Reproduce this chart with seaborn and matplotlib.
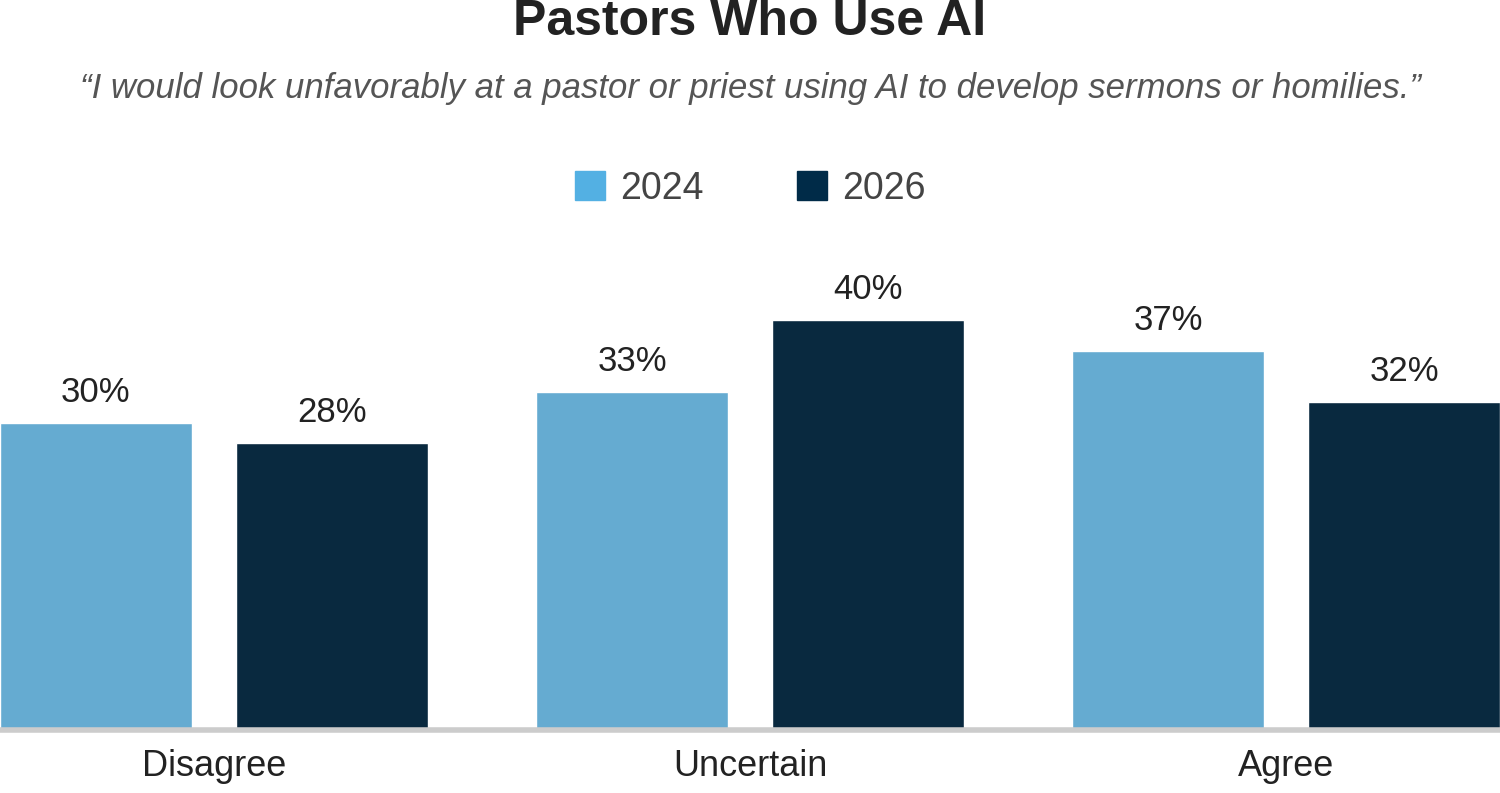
import pandas as pd
import matplotlib.pyplot as plt
import seaborn as sns

# Chart data
categories = ['Disagree', 'Uncertain', 'Agree']
years = ['2024', '2026']
values_2024 = [30, 33, 37]
values_2026 = [28, 40, 32]
colors = ['#53B0E3', '#002B48']

df = pd.DataFrame({
    'category': categories * 2,
    'year': [years[0]] * 3 + [years[1]] * 3,
    'value': values_2024 + values_2026,
})

sns.set_style('white')
plt.rcParams['font.family'] = ['Liberation Sans Narrow', 'Liberation Sans', 'DejaVu Sans']

fig = plt.figure(figsize=(15, 7.93), dpi=100)
ax = fig.add_axes([0, 63 / 793, 1, 500 / 793])

sns.barplot(data=df, x='category', y='value', hue='year', palette=colors,
            width=0.88, gap=0.186, legend=False, ax=ax)

for cont in ax.containers:
    ax.bar_label(cont, labels=[f'{v:.0f}%' for v in cont.datavalues],
                 padding=10, fontsize=25, color='#222222')

ax.set_xlim(-0.399, 2.399)
ax.set_ylim(0, 48.8)
ax.set_yticks([])
ax.set_xlabel('')
ax.set_ylabel('')
for s in ['top', 'left', 'right']:
    ax.spines[s].set_visible(False)
ax.spines['bottom'].set_color('#cccccc')
ax.spines['bottom'].set_linewidth(4)
ax.tick_params(axis='x', length=0, pad=14, labelsize=26, labelcolor='#222222')

fig.text(0.5, 0.972, 'Pastors Who Use AI', ha='center', va='center',
         fontsize=36, fontweight='bold', color='#222222')
fig.text(0.5, 0.888, '\u201cI would look unfavorably at a pastor or priest using AI to develop sermons or homilies.\u201d',
         ha='center', va='center', fontsize=25, style='italic', color='#555555')

# legend
from matplotlib.patches import Patch
handles = [Patch(color=c, label=y) for c, y in zip(colors, years)]
fig.legend(handles=handles, loc='center', bbox_to_anchor=(0.5, 0.762), ncol=2,
           frameon=False, fontsize=27, handlelength=0.8, handleheight=0.8,
           columnspacing=2.5, handletextpad=0.4, labelcolor='#444444')

fig.savefig('out.png', dpi=100)
